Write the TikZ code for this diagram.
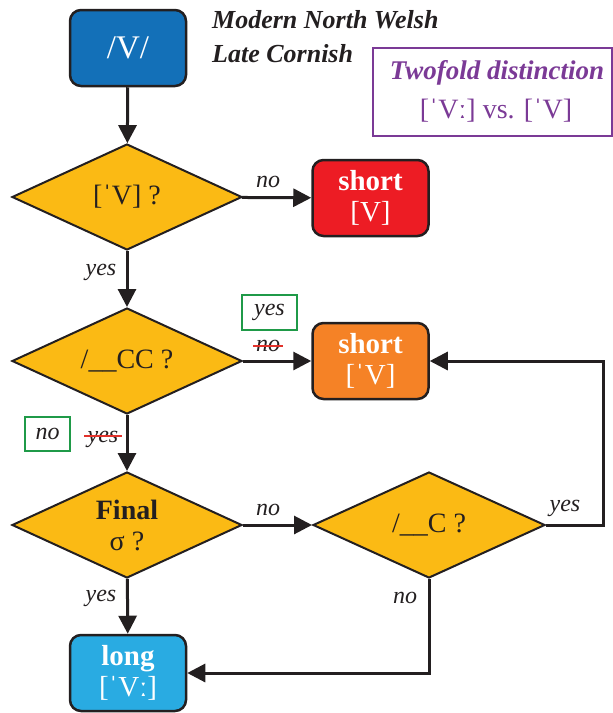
\documentclass[tikz,border=0pt]{standalone}
\usepackage{fontspec}
\setmainfont{Liberation Serif}
\usetikzlibrary{arrows.meta,shapes.geometric}

\definecolor{ink}{HTML}{231F20}
\definecolor{qyellow}{HTML}{FBBA14}
\definecolor{vblue}{HTML}{1370B8}
\definecolor{sred}{HTML}{ED1C24}
\definecolor{sorange}{HTML}{F58226}
\definecolor{lcyan}{HTML}{29ABE2}
\definecolor{violet}{HTML}{7B3A96}
\definecolor{okgreen}{HTML}{1F9A48}
\definecolor{strikered}{HTML}{E2322B}

\begin{document}
\begin{tikzpicture}[x=1pt,y=-1pt,
  box/.style={draw=ink, line width=2.5pt, rounded corners=11pt,
    minimum width=116pt, minimum height=76pt, inner sep=0pt,
    text=white, align=center, font=\fontsize{29}{31}\selectfont},
  query/.style={diamond, shape aspect=2.17, draw=ink, line width=2pt, fill=qyellow,
    minimum width=230pt, minimum height=106pt, inner sep=0pt,
    align=center, text=ink, font=\fontsize{28}{31}\selectfont},
  flow/.style={draw=ink, line width=3pt, -{Triangle[length=18pt,width=18pt]}},
  lbl/.style={text=ink, inner sep=1pt, font=\itshape\fontsize{24}{26}\selectfont},
  fixbox/.style={lbl, draw=okgreen, line width=2.5pt},
  cross/.style={draw=strikered, line width=2.2pt},
  title/.style={text=ink, anchor=west, inner sep=0pt,
    font=\bfseries\itshape\fontsize{26}{28}\selectfont}
]
\useasboundingbox (0,0) rectangle (613,713);

% headings and legend
\node[title] (t1) at (212,20) {Modern North Welsh};
\node[title] (t2) at (212,54) {Late Cornish};
\node[draw=violet, line width=2pt, minimum width=239pt, minimum height=88pt,
      inner sep=0pt] (legend) at (492.5,92) {};
\node[text=violet, font=\bfseries\itshape\fontsize{27}{29}\selectfont]
      (leg1) at (497,73) {Twofold distinction};
\node[text=violet, font=\fontsize{28}{30}\selectfont]
      (leg2) at (496,111) {[ˈVː] vs. [ˈV]};

% nodes
\node[box, fill=vblue, font=\fontsize{33}{35}\selectfont] (start) at (128,48) {/V/};
\node[query] (q1) at (127,197) {[ˈV] ?};
\node[box, fill=sred] (short1) at (370.5,198) {\textbf{short}\\{}[V]};
\node[query] (q2) at (127,361) {/\_\_CC ?};
\node[box, fill=sorange] (short2) at (370.5,361) {\textbf{short}\\{}[ˈV]};
\node[query] (q3) at (127,525) {\textbf{Final}\\σ ?};
\node[query, minimum width=232pt] (q4) at (429,525) {/\_\_C ?};
\node[box, fill=lcyan] (long) at (128,673) {\textbf{long}\\{}[ˈVː]};

\coordinate (rturn) at (603,525);

% connectors
\draw[flow] (start) -- (q1);
\draw[flow] (q1) -- (short1);
\draw[flow] (q1) -- (q2);
\draw[flow] (q2) -- (short2);
\draw[flow] (q2) -- (q3);
\draw[flow] (q3) -- (q4);
\draw[flow] (q3) -- (long);
\draw[flow] (q4.east) -- (rturn) |- (short2.east);
\draw[flow] (q4.south) |- (long.east);

% branch labels
\node[lbl] (l1) at (268,182) {no};
\node[lbl] (l2) at (101,272) {yes};
\node[fixbox, minimum width=55pt, minimum height=35pt] (l3) at (269.5,312.5) {yes};
\node[lbl] (l4) at (268,346) {no};
\draw[cross] ([xshift=-2pt]l4.west) -- ([xshift=2pt]l4.east);
\node[fixbox, minimum width=45pt, minimum height=34pt] (l5) at (47.5,434) {no};
\node[lbl, anchor=base] (l6) at (103,442) {yes};
\draw[cross] ([yshift=6pt,xshift=-2pt]l6.base west) -- ([yshift=6pt,xshift=2pt]l6.base east);
\node[lbl] (l7) at (268,510) {no};
\node[lbl] (l8) at (565,508) {yes};
\node[lbl] (l9) at (405,598) {no};
\node[lbl] (l10) at (101,598) {yes};
\end{tikzpicture}
\end{document}
